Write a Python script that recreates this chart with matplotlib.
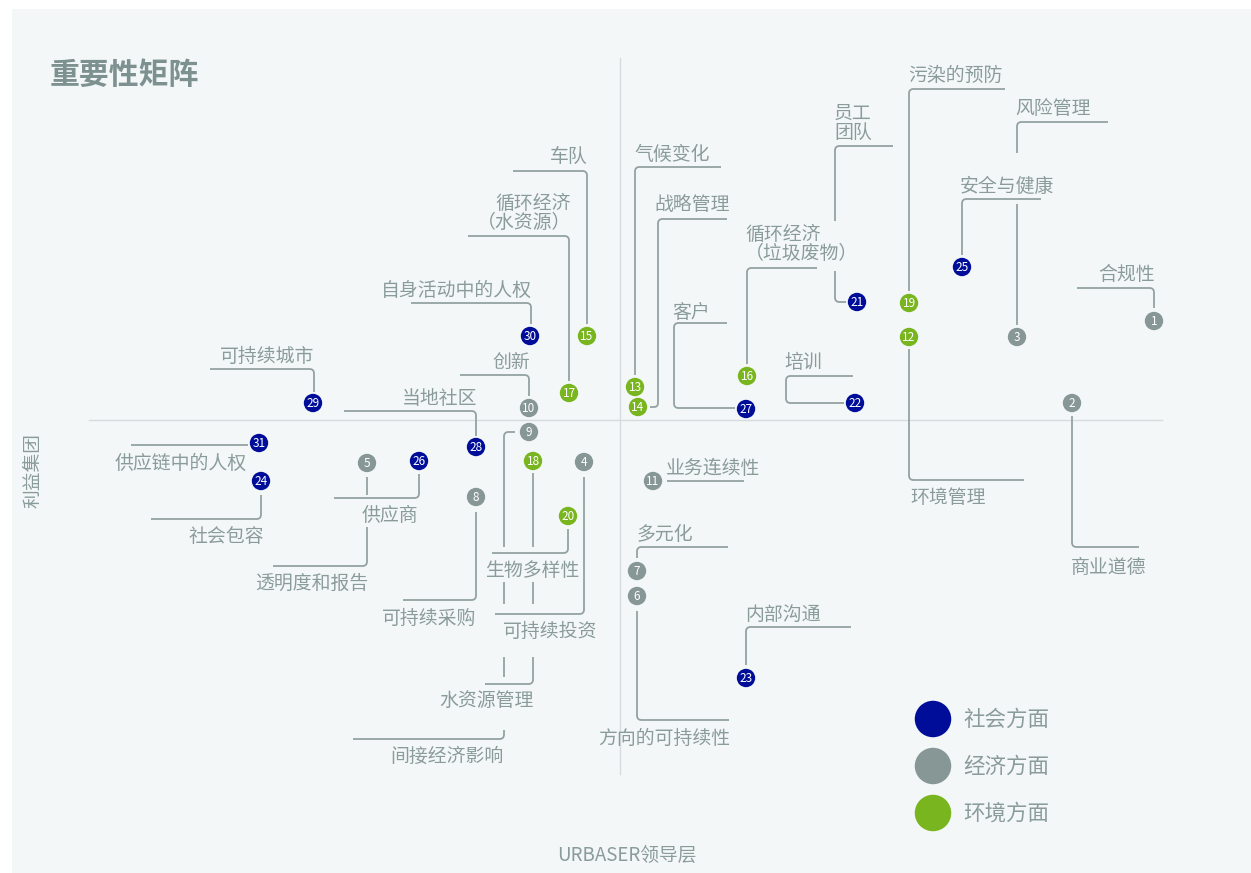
import matplotlib
matplotlib.use("Agg")
from matplotlib import pyplot as plt
from matplotlib.path import Path
from matplotlib.patches import PathPatch, Rectangle
import numpy as np

plt.rcParams['font.family'] = ['Noto Sans CJK SC', 'DejaVu Sans']

# point positions (pixel-like units on the matrix, x = URBASER leadership, y = stakeholders, y grows downward)
ids = list(range(1, 32))
pos_x = [1154, 1072, 1017, 584, 367, 637, 637, 476, 529, 529, 653,
         909, 635, 638, 587, 747, 569, 533, 909, 568,
         857, 855, 746, 261, 962, 419, 746, 476, 313, 530, 259]
pos_y = [321, 403, 337, 462, 463, 596, 571, 497, 432, 408, 481,
         337, 387, 407, 336, 376, 393, 461, 303, 516,
         302, 403, 678, 481, 267, 461, 409, 447, 403, 336, 443]
# 0 = social, 1 = economic, 2 = environmental
category = [1, 1, 1, 1, 1, 1, 1, 1, 1, 1, 1,
            2, 2, 2, 2, 2, 2, 2, 2, 2,
            0, 0, 0, 0, 0, 0, 0, 0, 0, 0, 0]
cat_names = ["社会方面", "经济方面", "环境方面"]
cat_colors = ["#000d99", "#879795", "#79b51f"]

# labels: text, x, y(center of first line), alignment
labels = [
    ("合规性", 1155, 273, "right"),
    ("商业道德", 1071, 566, "left"),
    ("风险管理", 1015, 107, "left"),
    ("可持续投资", 503, 630, "left"),
    ("透明度和报告", 368, 582, "right"),
    ("方向的可持续性", 730, 737, "right"),
    ("多元化", 637, 533, "left"),
    ("可持续采购", 476, 617, "right"),
    ("间接经济影响", 504, 755, "right"),
    ("创新", 530, 361, "right"),
    ("业务连续性", 666, 467, "left"),
    ("环境管理", 910, 496, "left"),
    ("气候变化", 634, 153, "left"),
    ("战略管理", 654, 203, "left"),
    ("车队", 588, 156, "right"),
    ("循环经济\n（垃圾废物）", 745, 233, "left"),
    ("循环经济\n（水资源）", 571, 202, "right"),
    ("水资源管理", 534, 699, "right"),
    ("污染的预防", 908, 74, "left"),
    ("生物多样性", 485, 569, "left"),
    ("员工\n团队", 834, 112, "left"),
    ("培训", 784, 361, "left"),
    ("内部沟通", 745, 613, "left"),
    ("社会包容", 264, 535, "right"),
    ("安全与健康", 960, 185, "left"),
    ("供应商", 362, 514, "left"),
    ("客户", 672, 311, "left"),
    ("当地社区", 477, 397, "right"),
    ("可持续城市", 314, 355, "right"),
    ("自身活动中的人权", 532, 289, "right"),
    ("供应链中的人权", 247, 462, "right"),
]

# leader lines, one list of polylines per point
leaders = [
    [[(1077, 288), (1154, 288), (1154, 308)]],
    [[(1072, 416), (1072, 547), (1139, 547)]],
    [[(1108, 122), (1017, 122), (1017, 153)], [(1017, 204), (1017, 325)]],
    [[(495, 614), (584, 614), (584, 477)]],
    [[(367, 477), (367, 495)], [(367, 527), (367, 566), (273, 566)]],
    [[(637, 611), (637, 720), (729, 720)]],
    [[(637, 558), (637, 547), (728, 547)]],
    [[(476, 512), (476, 600), (403, 600)]],
    [[(515, 432), (504, 432), (504, 547)], [(504, 582), (504, 604)],
     [(504, 657), (504, 677)], [(504, 730), (504, 739), (353, 739)]],
    [[(460, 375), (529, 375), (529, 396)]],
    [[(667, 481), (744, 481)]],
    [[(909, 349), (909, 480), (1024, 480)]],
    [[(721, 167), (635, 167), (635, 375)]],
    [[(727, 219), (658, 219), (658, 407), (650, 407)]],
    [[(513, 171), (587, 171), (587, 324)]],
    [[(817, 268), (747, 268), (747, 364)]],
    [[(468, 236), (569, 236), (569, 381)]],
    [[(533, 473), (533, 547)], [(533, 582), (533, 604)],
     [(533, 657), (533, 684), (485, 684)]],
    [[(1005, 89), (909, 89), (909, 291)]],
    [[(492, 553), (568, 553), (568, 529)]],
    [[(893, 146), (835, 146), (835, 221)], [(835, 271), (835, 302), (846, 302)]],
    [[(853, 376), (786, 376), (786, 403), (844, 403)]],
    [[(746, 665), (746, 627), (851, 627)]],
    [[(261, 495), (261, 519), (151, 519)]],
    [[(1041, 199), (962, 199), (962, 255)]],
    [[(419, 474), (419, 498), (334, 498)]],
    [[(727, 323), (674, 323), (674, 408), (735, 408)]],
    [[(344, 411), (476, 411), (476, 436)]],
    [[(210, 369), (314, 369), (314, 392)]],
    [[(411, 303), (531, 303), (531, 324)]],
    [[(131, 445), (248, 445)]],
]

text_col = "#8a9c9a"
line_col = "#93a2a1"
bg_col = "#f4f7f8"


def rounded(points, r=4.5):
    verts = [points[0]]
    codes = [Path.MOVETO]
    for i in range(1, len(points) - 1):
        p = np.array(points[i], float)
        a = np.array(points[i - 1], float)
        b = np.array(points[i + 1], float)
        u1 = (p - a) / np.linalg.norm(p - a)
        u2 = (b - p) / np.linalg.norm(b - p)
        rr = min(r, np.linalg.norm(p - a) / 2, np.linalg.norm(b - p) / 2)
        verts += [tuple(p - u1 * rr), tuple(p), tuple(p + u2 * rr)]
        codes += [Path.LINETO, Path.CURVE3, Path.CURVE3]
    verts.append(points[-1])
    codes.append(Path.LINETO)
    return Path(verts, codes)


fig = plt.figure(figsize=(12.51, 8.73), dpi=100)
ax = fig.add_axes([0, 0, 1, 1])
ax.set_xlim(0, 1251)
ax.set_ylim(873, 0)
ax.axis("off")

ax.add_patch(Rectangle((12, 9), 1239, 864, facecolor=bg_col, edgecolor="none", zorder=0))

# quadrant lines
ax.plot([620, 620], [58, 774], color="#d6dcdd", lw=1.0, zorder=1)
ax.plot([89, 1162], [420, 420], color="#d6dcdd", lw=1.0, zorder=1)

ax.text(50, 75, "重要性矩阵", fontsize=21.5, fontweight="bold", color="#7d9190",
        ha="left", va="center")
ax.text(627, 855, "URBASER领导层", fontsize=13.5, color=text_col, ha="center", va="center")
ax.text(33, 470, "利益集团", fontsize=13.5, color=text_col, ha="center", va="center",
        rotation=90)

for segs in leaders:
    for seg in segs:
        ax.add_patch(PathPatch(rounded(seg), fill=False, edgecolor=line_col, lw=1.3,
                               capstyle="butt", joinstyle="round", zorder=2))

for txt, tx, ty, ha in labels:
    for k, line in enumerate(txt.split("\n")):
        ax.text(tx, ty + 1.5 + k * 19, line, fontsize=13.6, color=text_col, ha=ha,
                va="center", zorder=3)

cols = [cat_colors[c] for c in category]
ax.scatter(pos_x, pos_y, s=175, c=cols, edgecolors="none", zorder=4)
for i, x, y in zip(ids, pos_x, pos_y):
    ax.text(x, y + 0.5, str(i), fontsize=8.5, color="white", ha="center", va="center",
            zorder=5)

# legend
leg_y = [719, 766, 813]
for name, col, ly in zip(cat_names, cat_colors, leg_y):
    ax.scatter([933], [ly], s=690, c=col, edgecolors="none", zorder=4)
    ax.text(963, ly + 1, name, fontsize=15.5, color=text_col, ha="left", va="center")

fig.savefig("out.png", dpi=100)
